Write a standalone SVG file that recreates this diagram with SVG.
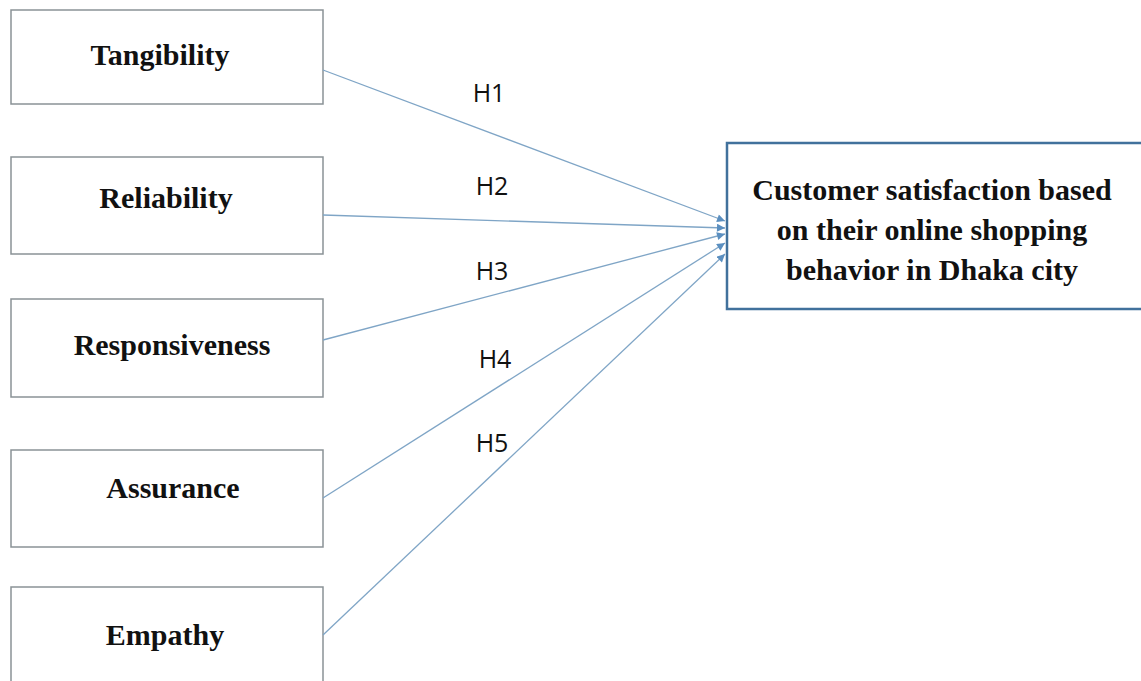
<svg xmlns="http://www.w3.org/2000/svg" width="1141" height="681" viewBox="0 0 1141 681">
<defs>
<style>
.box{fill:#ffffff;stroke:#8a9296;stroke-width:1.5}
.main{fill:#ffffff;stroke:#41719c;stroke-width:2.5}
.lbl{font-family:"Liberation Serif","Times New Roman",serif;font-weight:bold;font-size:30px;fill:#111;text-anchor:middle}
.mlbl{font-family:"Liberation Serif","Times New Roman",serif;font-weight:bold;font-size:30px;fill:#111;text-anchor:middle}
.h{font-family:"Open Sans","Liberation Sans",sans-serif;font-size:25px;fill:#111;text-anchor:middle}
.conn{stroke:#7fa5c6;stroke-width:1.3;fill:none;marker-end:url(#ah)}
</style>
<marker id="ah" viewBox="0 0 10 10" refX="10" refY="5" markerWidth="9" markerHeight="8" markerUnits="userSpaceOnUse" orient="auto">
<path d="M0,0 L10,5 L0,10 z" fill="#5b8fc0"/>
</marker>
</defs>
<rect width="1141" height="681" fill="#ffffff"/>
<g id="n-tangibility"><rect class="box" x="11" y="10" width="312" height="94"/><text class="lbl" x="160" y="65">Tangibility</text></g>
<g id="n-reliability"><rect class="box" x="11" y="157" width="312" height="97"/><text class="lbl" x="166" y="208">Reliability</text></g>
<g id="n-responsiveness"><rect class="box" x="11" y="299" width="312" height="98"/><text class="lbl" x="172" y="355">Responsiveness</text></g>
<g id="n-assurance"><rect class="box" x="11" y="450" width="312" height="97"/><text class="lbl" x="173" y="498">Assurance</text></g>
<g id="n-empathy"><rect class="box" x="11" y="587" width="312" height="100"/><text class="lbl" x="165" y="645">Empathy</text></g>
<g id="n-satisfaction"><rect class="main" x="727" y="143" width="420" height="166"/>
<text class="mlbl" x="932" y="200">Customer satisfaction based</text>
<text class="mlbl" x="932" y="240">on their online shopping</text>
<text class="mlbl" x="932" y="280">behavior in Dhaka city</text></g>
<g id="connectors">
<line class="conn" x1="323" y1="70" x2="725" y2="221"/>
<line class="conn" x1="323" y1="215" x2="725" y2="228"/>
<line class="conn" x1="323" y1="340" x2="725" y2="234"/>
<line class="conn" x1="323" y1="498" x2="725" y2="243"/>
<line class="conn" x1="323" y1="635" x2="725" y2="254"/>
</g>
<g id="labels">
<text class="h" x="489" y="102">H1</text>
<text class="h" x="492" y="195">H2</text>
<text class="h" x="492" y="280">H3</text>
<text class="h" x="495" y="368">H4</text>
<text class="h" x="492" y="452">H5</text>
</g>
</svg>
